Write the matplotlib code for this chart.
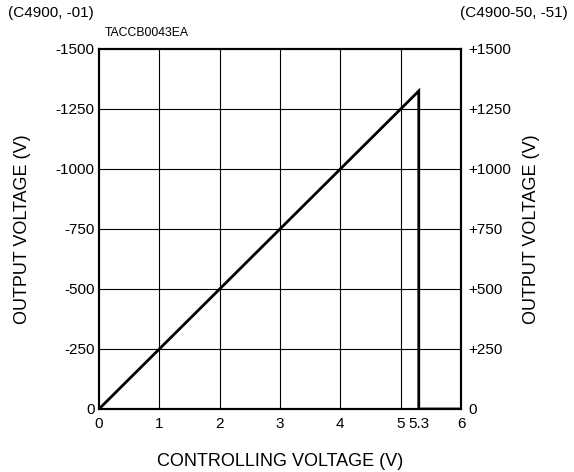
import matplotlib
matplotlib.use("Agg")
import matplotlib.pyplot as plt

plt.rcParams["font.family"] = ["Liberation Sans", "DejaVu Sans"]

# characteristic: output rises linearly to 5.3 V control, then drops to 0
ctrl_v = [0, 5.3, 5.3, 6]
out_v = [0, 1325, 0, 0]

x_ticks = [0, 1, 2, 3, 4, 5, 5.3, 6]
x_labels = ["0", "1", "2", "3", "4", "5", "5.3", "6"]
grid_x = [1, 2, 3, 4, 5]
y_ticks = [0, 250, 500, 750, 1000, 1250, 1500]
y_left = ["0", "-250", "-500", "-750", "-1000", "-1250", "-1500"]
y_right = ["0", "+250", "+500", "+750", "+1000", "+1250", "+1500"]

W, H = 574, 472
fig = plt.figure(figsize=(W / 100, H / 100), dpi=100)
ax = fig.add_axes([99 / W, 1 - 409 / H, 362 / W, 360 / H])
ax.set_xlim(0, 6)
ax.set_ylim(0, 1500)

for gx in grid_x:
    ax.axvline(gx, color="black", lw=0.8, zorder=1)
for gy in y_ticks[1:-1]:
    ax.axhline(gy, color="black", lw=0.8, zorder=1)

ax.plot(ctrl_v, out_v, color="black", lw=2.0, zorder=3, solid_joinstyle="miter")

for s in ax.spines.values():
    s.set_linewidth(1.5)

ax.set_xticks(x_ticks)
ax.set_xticklabels(x_labels, fontsize=11)
ax.set_yticks(y_ticks)
ax.set_yticklabels(y_left, fontsize=11)
ax.tick_params(axis="x", length=0, pad=6)
ax.tick_params(axis="y", length=0, pad=3)
# keep "5" and "5.3" from overlapping
labs = ax.get_xticklabels()
labs[5].set_x(4.97)
labs[6].set_x(5.26)

ax2 = ax.twinx()
ax2.set_ylim(0, 1500)
ax2.set_yticks(y_ticks)
ax2.set_yticklabels(y_right, fontsize=11)
ax2.tick_params(length=0, pad=5)
for s in ax2.spines.values():
    s.set_linewidth(1.5)

fig.text(23 / W, 1 - 229 / H, "OUTPUT VOLTAGE (V)", fontsize=13, rotation=90,
         ha="center", va="center")
fig.text(531 / W, 1 - 229 / H, "OUTPUT VOLTAGE (V)", fontsize=13, rotation=90,
         ha="center", va="center")
fig.text(280 / W, 1 - 462 / H, "CONTROLLING VOLTAGE (V)", fontsize=13,
         ha="center", va="center")

fig.text(8 / W, 1 - 13 / H, "(C4900, -01)", fontsize=11, va="center", ha="left")
fig.text(105 / W, 1 - 33 / H, "TACCB0043EA", fontsize=8.8, va="center", ha="left")
fig.text(568 / W, 1 - 13 / H, "(C4900-50, -51)", fontsize=11, va="center", ha="right")

fig.savefig("out.png", dpi=100)
